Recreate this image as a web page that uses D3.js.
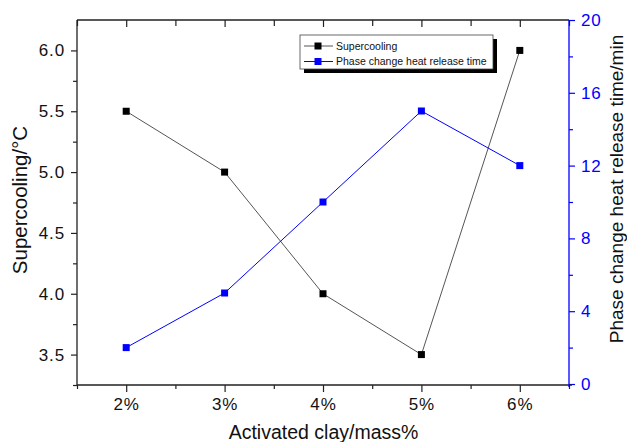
<!DOCTYPE html>
<html>
<head>
<meta charset="utf-8">
<script src="https://cdn.jsdelivr.net/npm/d3@7"></script>
<style>
  html, body { margin: 0; padding: 0; background: #fff; }
  svg { display: block; }
  text { font-family: "Liberation Sans", Arial, Helvetica, sans-serif; }
</style>
</head>
<body>
<svg id="chart" width="627" height="442"></svg>
<script>
// Activated clay content (mass %) and measured results
const clayContent = [2, 3, 4, 5, 6];
const supercooling = [5.5, 5.0, 4.0, 3.5, 6.0];       // °C
const releaseTime = [2, 5, 10, 15, 12];               // min

const xTicks = [2, 3, 4, 5, 6];
const xMinorTicks = [1.5, 2.5, 3.5, 4.5, 5.5, 6.5];
const leftTicks = [3.5, 4.0, 4.5, 5.0, 5.5, 6.0];
const leftMinorTicks = [3.25, 3.75, 4.25, 4.75, 5.25, 5.75];
const rightTicks = [0, 4, 8, 12, 16, 20];
const rightMinorTicks = [2, 6, 10, 14, 18];

const seriesNames = ["Supercooling", "Phase change heat release time"];

const BLUE = "#0000ff";
const svg = d3.select("#chart");
const plot = { left: 77, right: 569, top: 20, bottom: 385 };

const x = d3.scaleLinear().domain([1.5, 6.5]).range([plot.left, plot.right]);
const yL = d3.scaleLinear().domain([3.25, 6.25]).range([plot.bottom, plot.top]);
const yR = d3.scaleLinear().domain([0, 20]).range([plot.bottom - 1, plot.top]);

const tickFont = "17px";

// bottom axis
const axBottom = svg.append("g").attr("transform", `translate(0,${plot.bottom})`);
axBottom.call(d3.axisBottom(x).tickValues(xTicks).tickSize(7).tickPadding(6)
  .tickFormat(d => d + "%"));
axBottom.append("g").call(d3.axisBottom(x).tickValues(xMinorTicks).tickSize(4).tickFormat(""));

// top axis (inward ticks, no labels)
const axTop = svg.append("g").attr("transform", `translate(0,${plot.top})`);
axTop.call(d3.axisTop(x).tickValues(xTicks).tickSize(-7).tickFormat(""));
axTop.append("g").call(d3.axisTop(x).tickValues(xMinorTicks).tickSize(-6).tickFormat(""));

// left axis
const axLeft = svg.append("g").attr("transform", `translate(${plot.left},0)`);
axLeft.call(d3.axisLeft(yL).tickValues(leftTicks).tickSize(6).tickPadding(6)
  .tickFormat(d3.format(".1f")));
axLeft.append("g").call(d3.axisLeft(yL).tickValues(leftMinorTicks).tickSize(4).tickFormat(""));

// right axis (blue)
const axRight = svg.append("g").attr("transform", `translate(${plot.right},0)`);
axRight.call(d3.axisRight(yR).tickValues(rightTicks).tickSize(6).tickPadding(6));
axRight.append("g").call(d3.axisRight(yR).tickValues(rightMinorTicks).tickSize(4).tickFormat(""));

[axBottom, axTop, axLeft, axRight].forEach(g => {
  g.selectAll(".domain").remove();
  g.selectAll("line").attr("stroke", "#222").attr("stroke-width", 1.2);
  g.selectAll("text").attr("font-size", tickFont).attr("fill", "#111")
    .attr("font-family", "Liberation Sans, Arial, sans-serif").attr("letter-spacing", "0.9px");
});
axRight.selectAll("line").attr("stroke", BLUE);
axRight.selectAll("text").attr("fill", BLUE);

// frame
svg.append("path")
  .attr("d", `M${plot.left},${plot.top}H${plot.right}M${plot.left},${plot.top}V${plot.bottom}H${plot.right + 3}`)
  .attr("fill", "none").attr("stroke", "#222").attr("stroke-width", 1.3);
svg.append("line")
  .attr("x1", plot.right).attr("x2", plot.right)
  .attr("y1", plot.top).attr("y2", plot.bottom + 2)
  .attr("stroke", BLUE).attr("stroke-width", 1.3);

// series
const ptsA = clayContent.map((c, i) => [x(c), yL(supercooling[i])]);
const ptsB = clayContent.map((c, i) => [x(c), yR(releaseTime[i])]);
const line = d3.line();

svg.append("path").attr("d", line(ptsA)).attr("fill", "none")
  .attr("stroke", "#555").attr("stroke-width", 1);
svg.append("path").attr("d", line(ptsB)).attr("fill", "none")
  .attr("stroke", BLUE).attr("stroke-width", 1);

const M = 7;
svg.append("g").selectAll("rect").data(ptsA).join("rect")
  .attr("x", d => d[0] - M / 2).attr("y", d => d[1] - M / 2)
  .attr("width", M).attr("height", M).attr("fill", "#000");
svg.append("g").selectAll("rect").data(ptsB).join("rect")
  .attr("x", d => d[0] - M / 2).attr("y", d => d[1] - M / 2)
  .attr("width", M).attr("height", M).attr("fill", BLUE);

// axis titles
svg.append("text").attr("x", 323.5).attr("y", 439)
  .attr("text-anchor", "middle").attr("font-size", "19.5px").attr("fill", "#111")
  .text("Activated clay/mass%");
svg.append("text").attr("transform", "translate(27,200) rotate(-90)")
  .attr("text-anchor", "middle").attr("font-size", "20.5px").attr("fill", "#111")
  .text("Supercooling/°C");
svg.append("text").attr("transform", "translate(623,189) rotate(-90)")
  .attr("text-anchor", "middle").attr("font-size", "19px").attr("fill", "#111")
  .text("Phase change heat release time/min");

// legend with drop shadow
const lg = svg.append("g").attr("transform", "translate(300,35)");
lg.append("rect").attr("x", 4).attr("y", 4).attr("width", 193).attr("height", 34).attr("fill", "#000");
lg.append("rect").attr("x", 0).attr("y", 0).attr("width", 193).attr("height", 34)
  .attr("fill", "#fff").attr("stroke", "#444").attr("stroke-width", 0.8);
const legendColors = [["#555", "#000"], [BLUE, BLUE]];
seriesNames.forEach((name, i) => {
  const row = lg.append("g").attr("transform", `translate(0,${11 + i * 15.5})`);
  row.append("line").attr("x1", 4).attr("x2", 33).attr("y1", 0).attr("y2", 0)
    .attr("stroke", legendColors[i][0]).attr("stroke-width", 1);
  row.append("rect").attr("x", 18 - 3.5).attr("y", -3.5).attr("width", 7).attr("height", 7)
    .attr("fill", legendColors[i][1]);
  row.append("text").attr("x", 36).attr("y", 3.8).attr("font-size", "10.5px")
    .attr("fill", "#111").text(name);
});
</script>
</body>
</html>
